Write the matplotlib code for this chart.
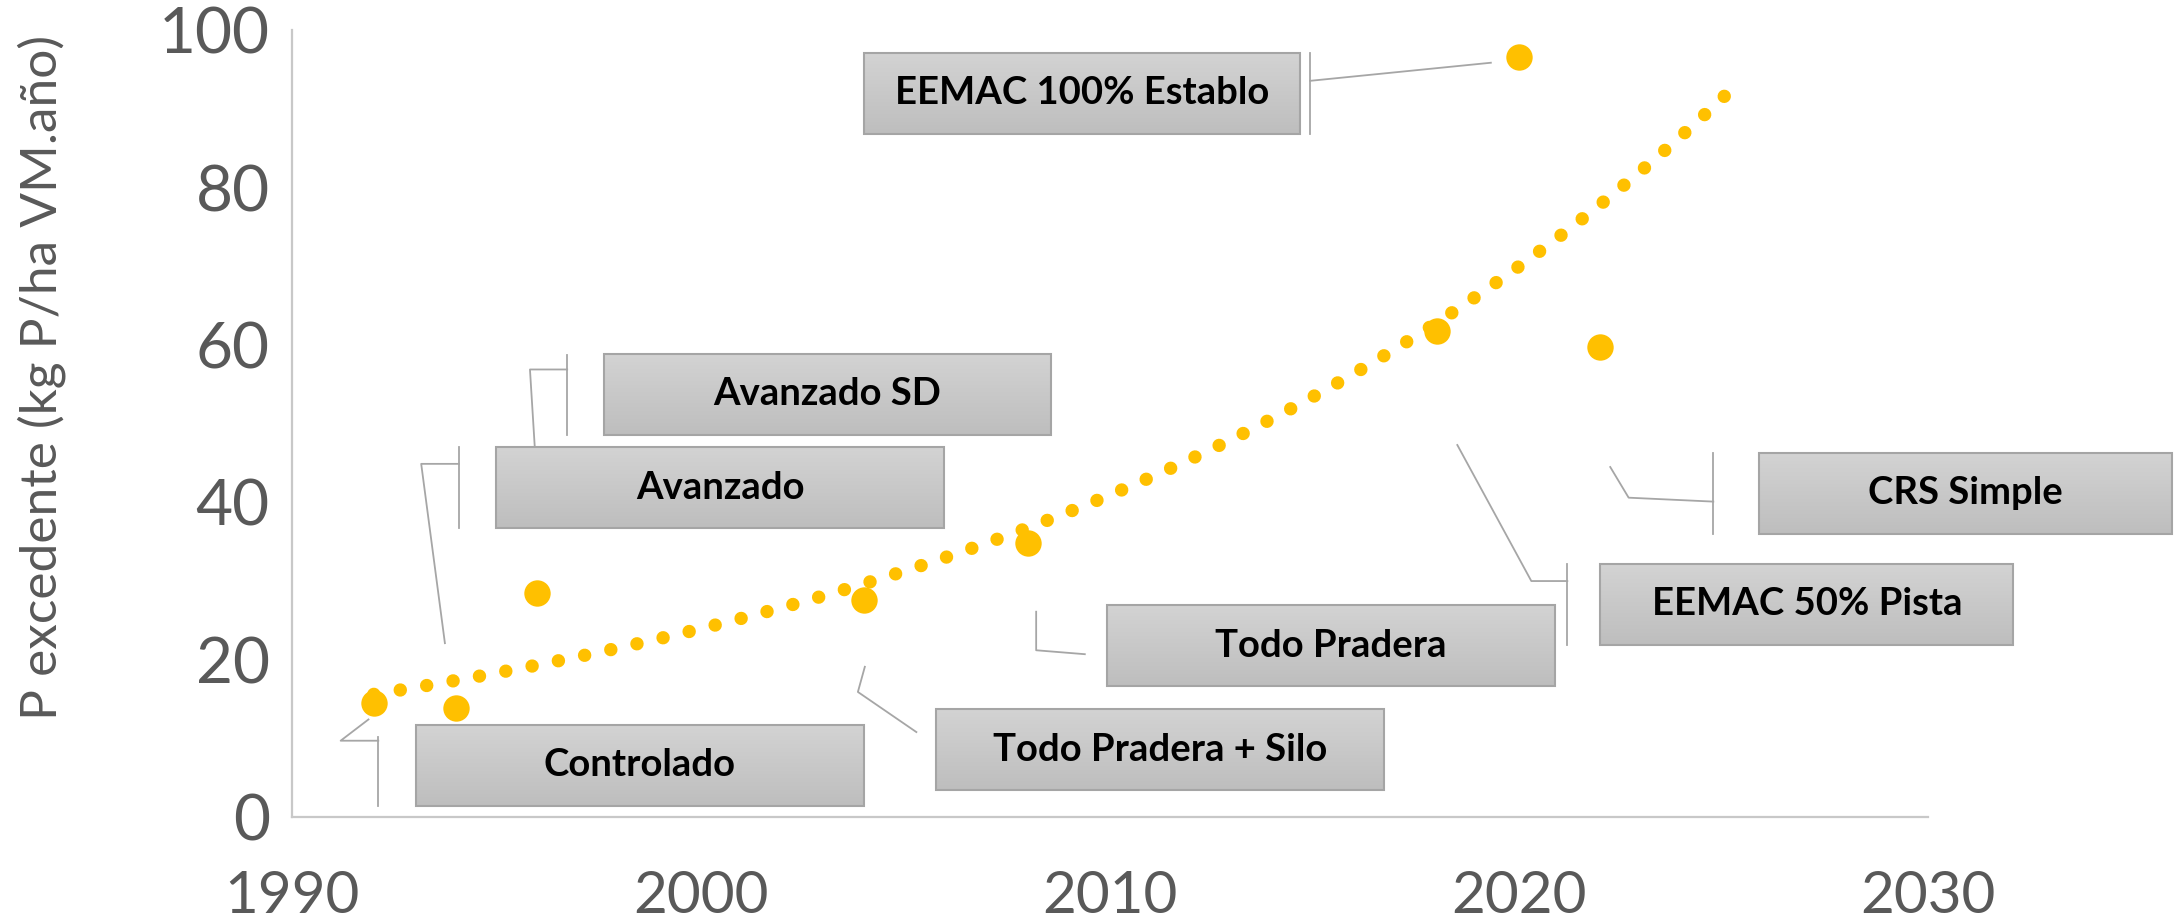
import numpy as np
import matplotlib
matplotlib.use("Agg")
import matplotlib.pyplot as plt
from matplotlib.colors import LinearSegmentedColormap
from matplotlib.patches import Rectangle

plt.rcParams['font.family'] = ['Lato', 'DejaVu Sans']

# data
years = [1992, 1994, 1996, 2004, 2008, 2018, 2020, 2022]
p_exc = [14.5, 13.8, 28.5, 27.6, 34.8, 61.8, 96.6, 59.8]
labels = ["Controlado", "Avanzado", "Avanzado SD", "Todo Pradera + Silo",
          "Todo Pradera", "EEMAC 50% Pista", "EEMAC 100% Establo", "CRS Simple"]
x_ticks = [1990, 2000, 2010, 2020, 2030]
y_ticks = [0, 20, 40, 60, 80, 100]

# label boxes: lower-left corner and width (data units)
box_x0 = [1993.03, 1995.0, 1997.62, 2005.75, 2009.93, 2022.0, 2003.98, 2025.88]
box_y0 = [1.4, 36.7, 48.6, 3.4, 16.6, 21.9, 86.9, 36.0]
box_w = [10.95, 10.95, 10.95, 10.95, 10.95, 10.1, 10.68, 10.1]
box_h = 10.3

# leader lines: optional vertical bar (x, y0, y1) and the polyline
bars = [(1992.11, 1.4, 10.2), (1994.08, 36.7, 47.0), (1996.73, 48.6, 58.8), None,
        None, (2021.19, 21.9, 32.2), (2014.9, 86.9, 97.2), (2024.76, 36.0, 46.3)]
leaders = [
    [(1992.11, 9.7), (1991.19, 9.7), (1991.87, 12.4)],
    [(1994.08, 44.9), (1993.16, 44.9), (1993.74, 22.1)],
    [(1996.73, 56.9), (1995.82, 56.9), (1996.05, 37.6)],
    [(2005.27, 10.8), (2003.84, 15.9), (2004.01, 19.1)],
    [(2009.39, 20.7), (2008.20, 21.2), (2008.20, 26.1)],
    [(2021.19, 30.0), (2020.31, 30.0), (2018.5, 47.3)],
    [(2014.9, 93.6), (2019.32, 95.9)],
    [(2024.76, 40.1), (2022.69, 40.6), (2022.24, 44.5)],
]
forward = 3.4

yellow = '#FFC000'
grey_txt = '#595959'
line_grey = '#A6A6A6'

fig = plt.figure(figsize=(21.79, 9.24), dpi=100)
ax = fig.add_axes([0.134, 0.1158, 0.7506, 0.8512])

# exponential trendline (least squares on log values, like Excel)
b, a = np.polyfit(years, np.log(p_exc), 1)
tx = np.linspace(years[0], years[-1] + forward, 200)
ax.plot(tx, np.exp(a + b * tx), color=yellow, lw=9.6,
        linestyle=(0, (0.01, 2.0)), dash_capstyle='round', zorder=2)

ax.plot(years, p_exc, 'o', color=yellow, ms=19, mec='none', zorder=4)

grad_cmap = LinearSegmentedColormap.from_list('g', ['#BEBEBE', '#D3D3D3'])
grad = np.linspace(0, 1, 64).reshape(-1, 1)
for i, lab in enumerate(labels):
    x0, y0, w = box_x0[i], box_y0[i], box_w[i]
    ax.imshow(grad, extent=[x0, x0 + w, y0, y0 + box_h], origin='lower',
              cmap=grad_cmap, aspect='auto', clip_on=False, zorder=5)
    ax.add_patch(Rectangle((x0, y0), w, box_h, fill=False, ec='#A5A5A5',
                           lw=1.5, clip_on=False, zorder=6))
    ax.text(x0 + w / 2, y0 + box_h / 2, lab, ha='center', va='center',
            fontsize=27.5, fontweight='bold', color='black', zorder=7, clip_on=False)
    if bars[i] is not None:
        bx, by0, by1 = bars[i]
        ax.plot([bx, bx], [by0, by1], color=line_grey, lw=1.3, clip_on=False, zorder=3)
    lx, ly = zip(*leaders[i])
    ax.plot(lx, ly, color=line_grey, lw=1.3, clip_on=False, zorder=3)

ax.set_xlim(1990, 2030)
ax.set_ylim(0, 100)
ax.set_xticks(x_ticks)
ax.set_yticks(y_ticks)
ax.tick_params(length=0, labelcolor=grey_txt)
ax.tick_params(axis='x', pad=38, labelsize=42)
ax.tick_params(axis='y', pad=16, labelsize=46)
for s in ['top', 'right']:
    ax.spines[s].set_visible(False)
for s in ['left', 'bottom']:
    ax.spines[s].set_color('#C8C8C8')
    ax.spines[s].set_linewidth(1.6)

fig.text(0.0193, 0.591, 'P excedente (kg P/ha VM.año)', rotation=90,
         ha='center', va='center', fontsize=37, color=grey_txt)

fig.savefig('out.png', dpi=100)
